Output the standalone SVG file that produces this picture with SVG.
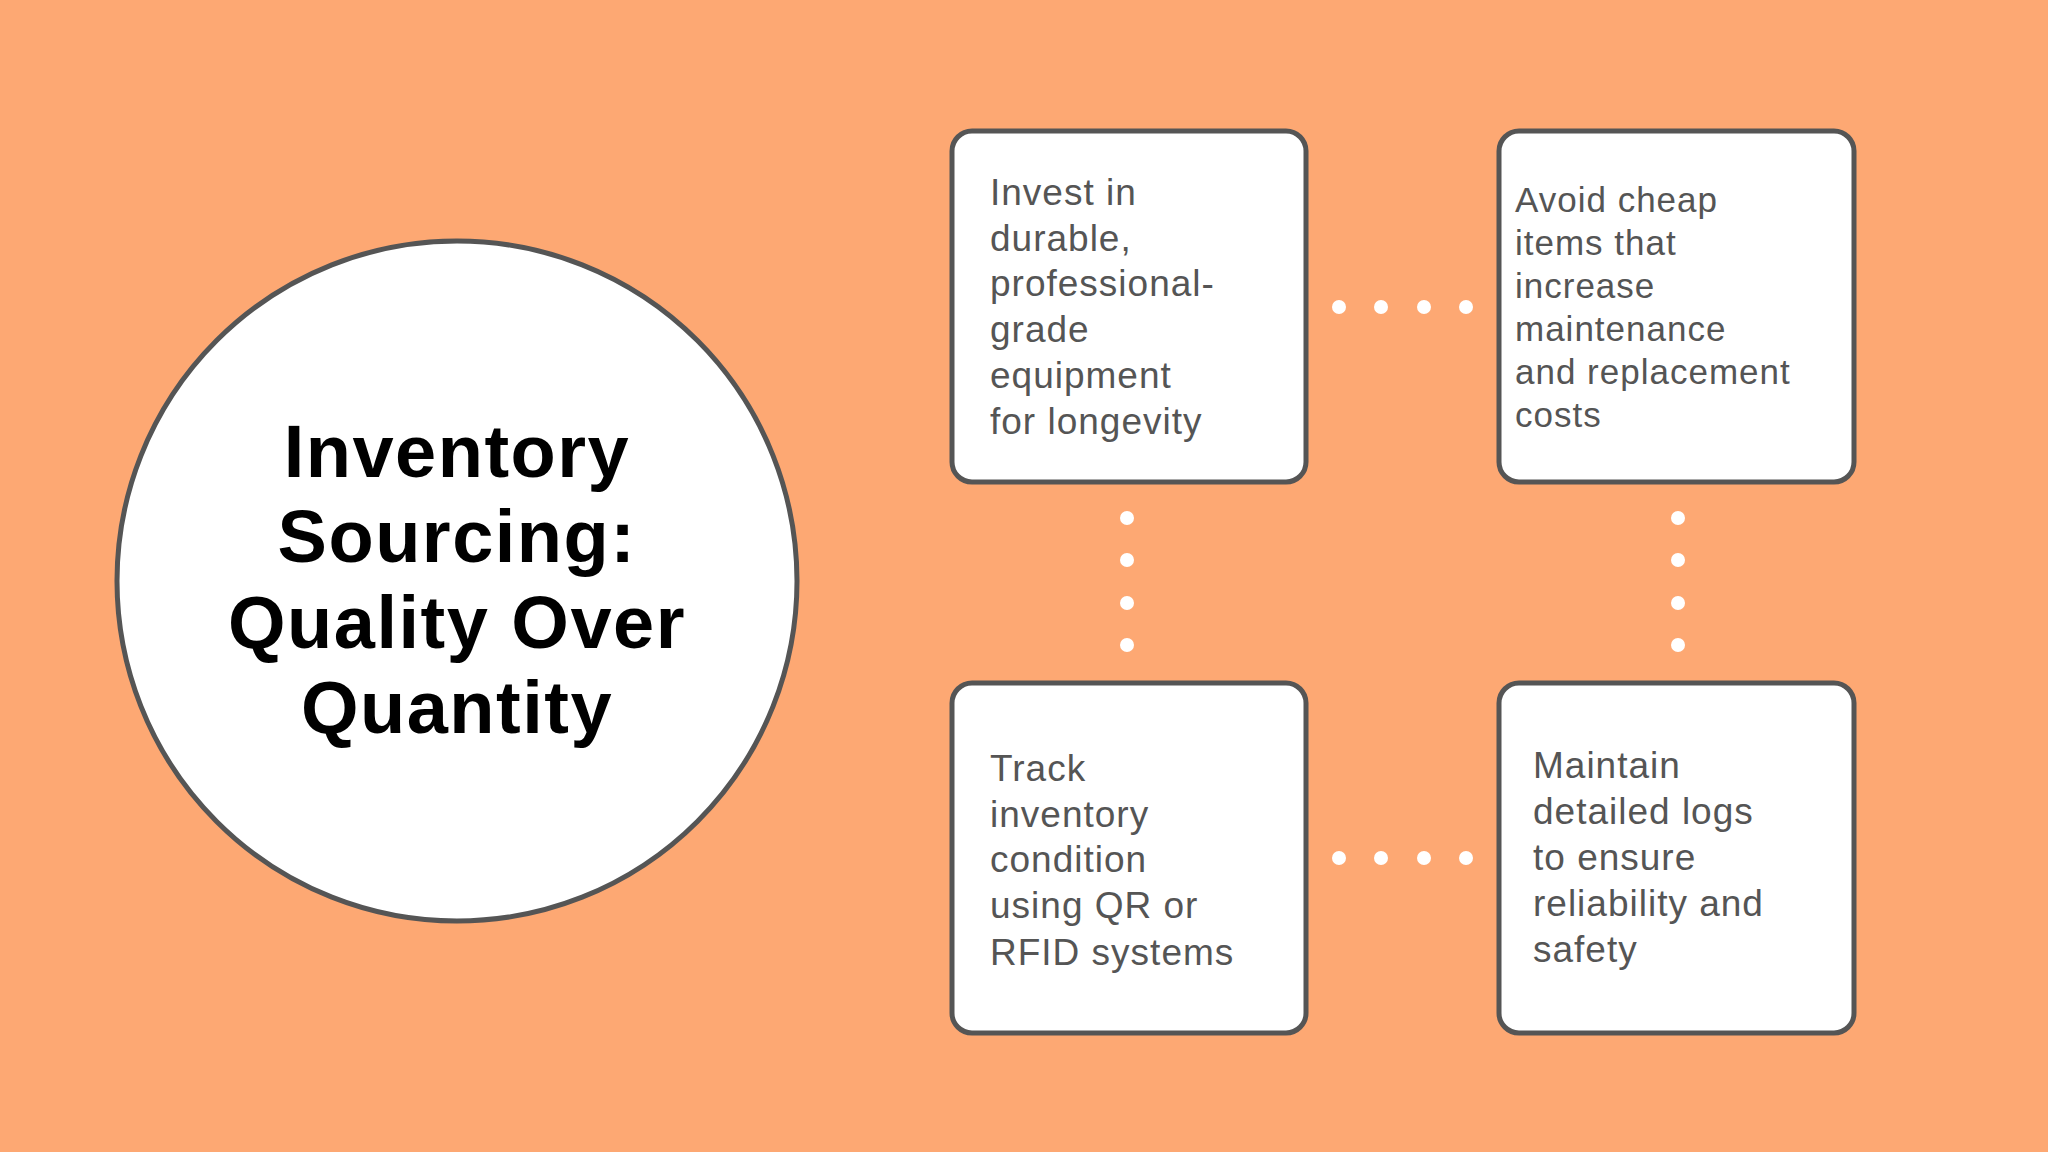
<svg xmlns="http://www.w3.org/2000/svg" width="2048" height="1152" viewBox="0 0 2048 1152">
<style>
.box{fill:#fff;stroke:#555;stroke-width:5}
.t{font-family:"Liberation Sans",Arial,sans-serif;font-size:37px;fill:#555;letter-spacing:1px}
.t2{font-family:"Liberation Sans",Arial,sans-serif;font-size:35px;fill:#555;letter-spacing:1px}
.title{font-family:"Liberation Sans",Arial,sans-serif;font-size:74px;font-weight:700;fill:#000;text-anchor:middle;letter-spacing:1.5px}
.d{fill:#fff}
</style>
<rect width="2048" height="1152" fill="#FDA873"/>
<g id="center">
<circle cx="457" cy="581" r="340" fill="#fff" stroke="#555" stroke-width="5"/>
<text class="title" x="457" y="477">Inventory</text>
<text class="title" x="457" y="562">Sourcing:</text>
<text class="title" x="457" y="648">Quality Over</text>
<text class="title" x="457" y="733">Quantity</text>
</g>
<g id="connectors">
<circle class="d" cx="1339" cy="307" r="7"/><circle class="d" cx="1381" cy="307" r="7"/><circle class="d" cx="1424" cy="307" r="7"/><circle class="d" cx="1466" cy="307" r="7"/>
<circle class="d" cx="1339" cy="858" r="7"/><circle class="d" cx="1381" cy="858" r="7"/><circle class="d" cx="1424" cy="858" r="7"/><circle class="d" cx="1466" cy="858" r="7"/>
<circle class="d" cx="1127" cy="518" r="7"/><circle class="d" cx="1127" cy="560" r="7"/><circle class="d" cx="1127" cy="603" r="7"/><circle class="d" cx="1127" cy="645" r="7"/>
<circle class="d" cx="1678" cy="518" r="7"/><circle class="d" cx="1678" cy="560" r="7"/><circle class="d" cx="1678" cy="603" r="7"/><circle class="d" cx="1678" cy="645" r="7"/>
</g>
<g id="box1">
<rect class="box" x="952" y="131" width="354" height="351" rx="20"/>
<text class="t" x="990" y="205">Invest in</text>
<text class="t" x="990" y="251">durable,</text>
<text class="t" x="990" y="296">professional-</text>
<text class="t" x="990" y="342">grade</text>
<text class="t" x="990" y="388">equipment</text>
<text class="t" x="990" y="434">for longevity</text>
</g>
<g id="box2">
<rect class="box" x="1499" y="131" width="355" height="351" rx="20"/>
<text class="t2" x="1515" y="212">Avoid cheap</text>
<text class="t2" x="1515" y="255">items that</text>
<text class="t2" x="1515" y="298">increase</text>
<text class="t2" x="1515" y="341">maintenance</text>
<text class="t2" x="1515" y="384">and replacement</text>
<text class="t2" x="1515" y="427">costs</text>
</g>
<g id="box3">
<rect class="box" x="952" y="683" width="354" height="350" rx="20"/>
<text class="t" x="990" y="781">Track</text>
<text class="t" x="990" y="827">inventory</text>
<text class="t" x="990" y="872">condition</text>
<text class="t" x="990" y="918">using QR or</text>
<text class="t" x="990" y="965">RFID systems</text>
</g>
<g id="box4">
<rect class="box" x="1499" y="683" width="355" height="350" rx="20"/>
<text class="t" x="1533" y="778">Maintain</text>
<text class="t" x="1533" y="824">detailed logs</text>
<text class="t" x="1533" y="870">to ensure</text>
<text class="t" x="1533" y="916">reliability and</text>
<text class="t" x="1533" y="962">safety</text>
</g>
</svg>
